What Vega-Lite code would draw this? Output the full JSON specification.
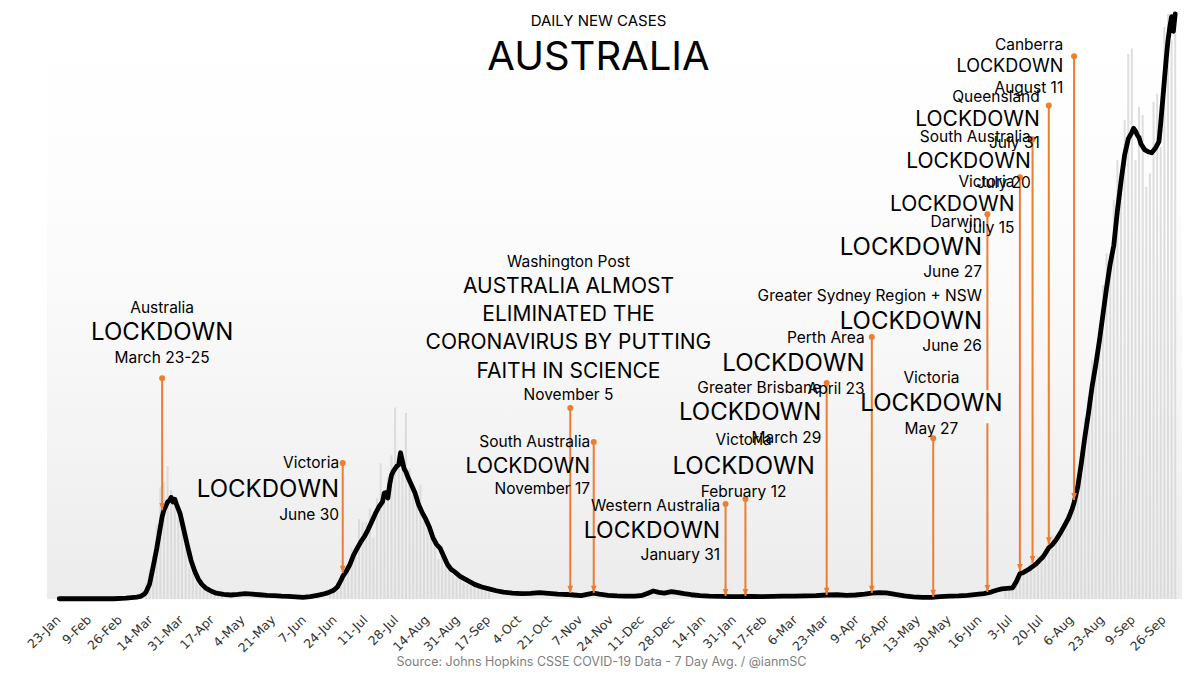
{
  "$schema": "https://vega.github.io/schema/vega-lite/v6.json",
  "width": 1135,
  "height": 585,
  "autosize": "none",
  "padding": {"left": 47, "top": 14, "right": 18, "bottom": 77},
  "background": "#ffffff",
  "title": {
    "text": "DAILY NEW CASES",
    "subtitle": "AUSTRALIA",
    "anchor": "middle",
    "dx": -16,
    "offset": -66,
    "font": "Inter",
    "fontSize": 15,
    "fontWeight": "normal",
    "color": "#000000",
    "subtitleFont": "Inter",
    "subtitleFontSize": 40,
    "subtitleColor": "#000000",
    "subtitlePadding": 9
  },
  "config": {
    "view": {
      "stroke": null,
      "fill": {
        "gradient": "linear", "x1": 0, "y1": 0, "x2": 0, "y2": 1,
        "stops": [
          {"offset": 0, "color": "#ffffff"},
          {"offset": 0.3, "color": "#fdfdfd"},
          {"offset": 0.6, "color": "#f7f7f7"},
          {"offset": 1, "color": "#ececec"}
        ]
      }
    }
  },
  "datasets": {
    "avg": [
      {"date": "2020-01-26", "value": 1}, {"date": "2020-02-05", "value": 1}, {"date": "2020-02-15", "value": 1},
      {"date": "2020-02-25", "value": 1}, {"date": "2020-03-03", "value": 3}, {"date": "2020-03-06", "value": 5},
      {"date": "2020-03-09", "value": 7}, {"date": "2020-03-11", "value": 10}, {"date": "2020-03-13", "value": 18},
      {"date": "2020-03-14", "value": 25}, {"date": "2020-03-16", "value": 55}, {"date": "2020-03-18", "value": 120},
      {"date": "2020-03-20", "value": 190}, {"date": "2020-03-22", "value": 270}, {"date": "2020-03-23", "value": 310},
      {"date": "2020-03-24", "value": 335}, {"date": "2020-03-26", "value": 365}, {"date": "2020-03-27", "value": 370},
      {"date": "2020-03-28", "value": 382}, {"date": "2020-03-29", "value": 365}, {"date": "2020-03-30", "value": 375},
      {"date": "2020-03-31", "value": 355}, {"date": "2020-04-02", "value": 320}, {"date": "2020-04-04", "value": 260},
      {"date": "2020-04-06", "value": 200}, {"date": "2020-04-08", "value": 145}, {"date": "2020-04-10", "value": 105},
      {"date": "2020-04-12", "value": 75}, {"date": "2020-04-14", "value": 55}, {"date": "2020-04-16", "value": 42},
      {"date": "2020-04-19", "value": 30}, {"date": "2020-04-22", "value": 22}, {"date": "2020-04-26", "value": 17},
      {"date": "2020-04-30", "value": 15}, {"date": "2020-05-04", "value": 17}, {"date": "2020-05-08", "value": 20},
      {"date": "2020-05-12", "value": 18}, {"date": "2020-05-16", "value": 16}, {"date": "2020-05-20", "value": 14},
      {"date": "2020-05-24", "value": 13}, {"date": "2020-05-28", "value": 11}, {"date": "2020-06-01", "value": 10},
      {"date": "2020-06-05", "value": 8}, {"date": "2020-06-09", "value": 6}, {"date": "2020-06-13", "value": 9},
      {"date": "2020-06-17", "value": 14}, {"date": "2020-06-20", "value": 18}, {"date": "2020-06-23", "value": 24},
      {"date": "2020-06-26", "value": 33}, {"date": "2020-06-28", "value": 45}, {"date": "2020-06-30", "value": 70},
      {"date": "2020-07-01", "value": 85}, {"date": "2020-07-03", "value": 105}, {"date": "2020-07-05", "value": 130},
      {"date": "2020-07-07", "value": 165}, {"date": "2020-07-09", "value": 190}, {"date": "2020-07-11", "value": 215},
      {"date": "2020-07-13", "value": 235}, {"date": "2020-07-15", "value": 260}, {"date": "2020-07-17", "value": 290},
      {"date": "2020-07-19", "value": 320}, {"date": "2020-07-21", "value": 346}, {"date": "2020-07-23", "value": 365},
      {"date": "2020-07-24", "value": 398}, {"date": "2020-07-25", "value": 400}, {"date": "2020-07-26", "value": 380},
      {"date": "2020-07-27", "value": 430}, {"date": "2020-07-28", "value": 465}, {"date": "2020-07-29", "value": 480},
      {"date": "2020-07-30", "value": 490}, {"date": "2020-07-31", "value": 500}, {"date": "2020-08-01", "value": 505},
      {"date": "2020-08-02", "value": 550}, {"date": "2020-08-03", "value": 520}, {"date": "2020-08-04", "value": 490},
      {"date": "2020-08-05", "value": 478}, {"date": "2020-08-06", "value": 460}, {"date": "2020-08-08", "value": 430},
      {"date": "2020-08-10", "value": 400}, {"date": "2020-08-12", "value": 355}, {"date": "2020-08-14", "value": 325},
      {"date": "2020-08-16", "value": 300}, {"date": "2020-08-18", "value": 270}, {"date": "2020-08-20", "value": 230},
      {"date": "2020-08-22", "value": 205}, {"date": "2020-08-24", "value": 190}, {"date": "2020-08-26", "value": 160},
      {"date": "2020-08-28", "value": 130}, {"date": "2020-08-30", "value": 112}, {"date": "2020-09-01", "value": 102},
      {"date": "2020-09-04", "value": 85}, {"date": "2020-09-08", "value": 70}, {"date": "2020-09-12", "value": 55},
      {"date": "2020-09-16", "value": 45}, {"date": "2020-09-20", "value": 38}, {"date": "2020-09-24", "value": 31},
      {"date": "2020-09-28", "value": 26}, {"date": "2020-10-03", "value": 22}, {"date": "2020-10-08", "value": 20},
      {"date": "2020-10-13", "value": 21}, {"date": "2020-10-18", "value": 24}, {"date": "2020-10-23", "value": 21},
      {"date": "2020-10-28", "value": 18}, {"date": "2020-11-02", "value": 17}, {"date": "2020-11-06", "value": 15},
      {"date": "2020-11-10", "value": 13}, {"date": "2020-11-14", "value": 18}, {"date": "2020-11-17", "value": 22},
      {"date": "2020-11-20", "value": 18}, {"date": "2020-11-25", "value": 14}, {"date": "2020-11-30", "value": 12},
      {"date": "2020-12-05", "value": 11}, {"date": "2020-12-10", "value": 11}, {"date": "2020-12-14", "value": 14},
      {"date": "2020-12-17", "value": 22}, {"date": "2020-12-20", "value": 30}, {"date": "2020-12-23", "value": 25},
      {"date": "2020-12-26", "value": 22}, {"date": "2020-12-30", "value": 28}, {"date": "2021-01-02", "value": 25},
      {"date": "2021-01-06", "value": 20}, {"date": "2021-01-10", "value": 16}, {"date": "2021-01-15", "value": 13},
      {"date": "2021-01-20", "value": 11}, {"date": "2021-01-26", "value": 10}, {"date": "2021-02-01", "value": 9},
      {"date": "2021-02-06", "value": 9}, {"date": "2021-02-12", "value": 10}, {"date": "2021-02-18", "value": 9},
      {"date": "2021-02-24", "value": 10}, {"date": "2021-03-02", "value": 11}, {"date": "2021-03-08", "value": 11},
      {"date": "2021-03-14", "value": 12}, {"date": "2021-03-20", "value": 13}, {"date": "2021-03-26", "value": 15},
      {"date": "2021-04-01", "value": 16}, {"date": "2021-04-06", "value": 14}, {"date": "2021-04-11", "value": 15},
      {"date": "2021-04-16", "value": 18}, {"date": "2021-04-20", "value": 22}, {"date": "2021-04-24", "value": 24},
      {"date": "2021-04-28", "value": 23}, {"date": "2021-05-03", "value": 17}, {"date": "2021-05-08", "value": 12},
      {"date": "2021-05-13", "value": 8}, {"date": "2021-05-18", "value": 6}, {"date": "2021-05-23", "value": 6},
      {"date": "2021-05-28", "value": 9}, {"date": "2021-06-02", "value": 11}, {"date": "2021-06-07", "value": 12},
      {"date": "2021-06-12", "value": 14}, {"date": "2021-06-17", "value": 17}, {"date": "2021-06-21", "value": 20},
      {"date": "2021-06-25", "value": 26}, {"date": "2021-06-28", "value": 33}, {"date": "2021-07-01", "value": 38},
      {"date": "2021-07-04", "value": 40}, {"date": "2021-07-07", "value": 42}, {"date": "2021-07-09", "value": 65},
      {"date": "2021-07-11", "value": 95}, {"date": "2021-07-13", "value": 100}, {"date": "2021-07-16", "value": 112},
      {"date": "2021-07-18", "value": 122}, {"date": "2021-07-20", "value": 132}, {"date": "2021-07-22", "value": 146},
      {"date": "2021-07-24", "value": 160}, {"date": "2021-07-27", "value": 193}, {"date": "2021-07-29", "value": 205},
      {"date": "2021-07-31", "value": 222}, {"date": "2021-08-03", "value": 255}, {"date": "2021-08-05", "value": 280},
      {"date": "2021-08-07", "value": 305}, {"date": "2021-08-09", "value": 340}, {"date": "2021-08-10", "value": 362},
      {"date": "2021-08-12", "value": 420}, {"date": "2021-08-14", "value": 510}, {"date": "2021-08-16", "value": 610},
      {"date": "2021-08-18", "value": 700}, {"date": "2021-08-20", "value": 800}, {"date": "2021-08-22", "value": 880},
      {"date": "2021-08-24", "value": 970}, {"date": "2021-08-26", "value": 1070}, {"date": "2021-08-28", "value": 1170},
      {"date": "2021-08-30", "value": 1260}, {"date": "2021-09-01", "value": 1330}, {"date": "2021-09-03", "value": 1460},
      {"date": "2021-09-05", "value": 1570}, {"date": "2021-09-07", "value": 1670}, {"date": "2021-09-09", "value": 1730},
      {"date": "2021-09-11", "value": 1755}, {"date": "2021-09-12", "value": 1770}, {"date": "2021-09-13", "value": 1760},
      {"date": "2021-09-14", "value": 1745}, {"date": "2021-09-15", "value": 1735}, {"date": "2021-09-16", "value": 1712},
      {"date": "2021-09-18", "value": 1690}, {"date": "2021-09-20", "value": 1682}, {"date": "2021-09-22", "value": 1678},
      {"date": "2021-09-24", "value": 1695}, {"date": "2021-09-26", "value": 1720}, {"date": "2021-09-27", "value": 1790},
      {"date": "2021-09-28", "value": 1870}, {"date": "2021-09-29", "value": 1950}, {"date": "2021-09-30", "value": 2030},
      {"date": "2021-10-01", "value": 2100}, {"date": "2021-10-02", "value": 2150}, {"date": "2021-10-03", "value": 2190},
      {"date": "2021-10-04", "value": 2135}, {"date": "2021-10-05", "value": 2200}
    ],
    "daily": [
      {"date": "2020-03-08", "value": 15}, {"date": "2020-03-10", "value": 20}, {"date": "2020-03-12", "value": 35},
      {"date": "2020-03-14", "value": 60}, {"date": "2020-03-16", "value": 110}, {"date": "2020-03-18", "value": 160},
      {"date": "2020-03-20", "value": 280}, {"date": "2020-03-22", "value": 420}, {"date": "2020-03-24", "value": 440},
      {"date": "2020-03-26", "value": 500}, {"date": "2020-03-28", "value": 410}, {"date": "2020-03-30", "value": 380},
      {"date": "2020-04-01", "value": 330}, {"date": "2020-04-03", "value": 300}, {"date": "2020-04-05", "value": 190},
      {"date": "2020-04-07", "value": 120}, {"date": "2020-04-09", "value": 100}, {"date": "2020-04-11", "value": 60},
      {"date": "2020-04-13", "value": 45}, {"date": "2020-04-15", "value": 40}, {"date": "2020-04-17", "value": 30},
      {"date": "2020-04-19", "value": 25}, {"date": "2020-04-21", "value": 20}, {"date": "2020-04-23", "value": 15},
      {"date": "2020-04-25", "value": 18},
      {"date": "2020-06-24", "value": 30}, {"date": "2020-06-26", "value": 45}, {"date": "2020-06-28", "value": 60},
      {"date": "2020-06-30", "value": 85}, {"date": "2020-07-02", "value": 110}, {"date": "2020-07-04", "value": 130},
      {"date": "2020-07-06", "value": 190}, {"date": "2020-07-08", "value": 200}, {"date": "2020-07-10", "value": 300},
      {"date": "2020-07-12", "value": 290}, {"date": "2020-07-14", "value": 290}, {"date": "2020-07-16", "value": 340},
      {"date": "2020-07-18", "value": 230}, {"date": "2020-07-20", "value": 380}, {"date": "2020-07-22", "value": 510},
      {"date": "2020-07-24", "value": 370}, {"date": "2020-07-26", "value": 460}, {"date": "2020-07-28", "value": 540},
      {"date": "2020-07-30", "value": 720}, {"date": "2020-08-01", "value": 500}, {"date": "2020-08-03", "value": 560},
      {"date": "2020-08-05", "value": 700}, {"date": "2020-08-07", "value": 490}, {"date": "2020-08-09", "value": 420},
      {"date": "2020-08-11", "value": 350}, {"date": "2020-08-13", "value": 430}, {"date": "2020-08-15", "value": 320},
      {"date": "2020-08-17", "value": 280}, {"date": "2020-08-19", "value": 240}, {"date": "2020-08-21", "value": 200},
      {"date": "2020-08-23", "value": 150}, {"date": "2020-08-25", "value": 170}, {"date": "2020-08-27", "value": 120},
      {"date": "2020-08-29", "value": 110}, {"date": "2020-08-31", "value": 90}, {"date": "2020-09-02", "value": 80},
      {"date": "2020-09-04", "value": 75}, {"date": "2020-09-06", "value": 60}, {"date": "2020-09-08", "value": 55},
      {"date": "2020-09-10", "value": 50}, {"date": "2020-09-12", "value": 45}, {"date": "2020-09-14", "value": 40},
      {"date": "2020-09-16", "value": 35}, {"date": "2020-09-18", "value": 30}, {"date": "2020-09-20", "value": 25},
      {"date": "2021-07-03", "value": 40}, {"date": "2021-07-05", "value": 35}, {"date": "2021-07-07", "value": 50},
      {"date": "2021-07-09", "value": 80}, {"date": "2021-07-11", "value": 110}, {"date": "2021-07-13", "value": 100},
      {"date": "2021-07-15", "value": 120}, {"date": "2021-07-17", "value": 140}, {"date": "2021-07-19", "value": 110},
      {"date": "2021-07-21", "value": 160}, {"date": "2021-07-23", "value": 170}, {"date": "2021-07-25", "value": 150},
      {"date": "2021-07-27", "value": 190}, {"date": "2021-07-29", "value": 240}, {"date": "2021-07-31", "value": 230},
      {"date": "2021-08-02", "value": 250}, {"date": "2021-08-04", "value": 280}, {"date": "2021-08-06", "value": 320},
      {"date": "2021-08-08", "value": 330}, {"date": "2021-08-10", "value": 390}, {"date": "2021-08-12", "value": 420},
      {"date": "2021-08-14", "value": 560}, {"date": "2021-08-16", "value": 680}, {"date": "2021-08-18", "value": 760},
      {"date": "2021-08-20", "value": 900}, {"date": "2021-08-22", "value": 920}, {"date": "2021-08-24", "value": 1000},
      {"date": "2021-08-26", "value": 1180}, {"date": "2021-08-28", "value": 1300}, {"date": "2021-08-30", "value": 1270},
      {"date": "2021-09-01", "value": 1500}, {"date": "2021-09-03", "value": 1650}, {"date": "2021-09-05", "value": 1560},
      {"date": "2021-09-07", "value": 1800}, {"date": "2021-09-09", "value": 2050}, {"date": "2021-09-11", "value": 2070},
      {"date": "2021-09-13", "value": 1650}, {"date": "2021-09-15", "value": 1850}, {"date": "2021-09-17", "value": 1820},
      {"date": "2021-09-19", "value": 1550}, {"date": "2021-09-21", "value": 1600}, {"date": "2021-09-23", "value": 1870},
      {"date": "2021-09-25", "value": 1900}, {"date": "2021-09-27", "value": 1700}, {"date": "2021-09-29", "value": 2150},
      {"date": "2021-10-01", "value": 2200}, {"date": "2021-10-03", "value": 2100}, {"date": "2021-10-05", "value": 2150}
    ],
    "arrows": [
      {"date": "2020-03-23", "top": 830, "bottom": 334},
      {"date": "2020-07-01", "top": 511, "bottom": 98},
      {"date": "2020-11-04", "top": 718, "bottom": 23},
      {"date": "2020-11-17", "top": 590, "bottom": 23},
      {"date": "2021-01-29", "top": 357, "bottom": 11},
      {"date": "2021-02-09", "top": 376, "bottom": 11},
      {"date": "2021-03-26", "top": 812, "bottom": 15},
      {"date": "2021-04-20", "top": 985, "bottom": 23},
      {"date": "2021-05-24", "top": 605, "bottom": 8},
      {"date": "2021-06-23", "top": 1447, "bottom": 26},
      {"date": "2021-07-11", "top": 1586, "bottom": 105},
      {"date": "2021-07-18", "top": 1729, "bottom": 135},
      {"date": "2021-07-27", "top": 1856, "bottom": 205},
      {"date": "2021-08-10", "top": 2041, "bottom": 372}
    ],
    "masks": [
      {"date": "2021-06-21", "date2": "2021-06-25", "low": 661, "high": 785}
    ],
    "notesRight": [
      {"date": "2020-06-29", "value": 511, "text": "Victoria", "kind": "small"},
      {"date": "2020-06-29", "value": 410, "text": "LOCKDOWN", "kind": "xl"},
      {"date": "2020-06-29", "value": 316, "text": "June 30", "kind": "small"},
      {"date": "2020-11-15", "value": 590, "text": "South Australia", "kind": "small"},
      {"date": "2020-11-15", "value": 496, "text": "LOCKDOWN", "kind": "m"},
      {"date": "2020-11-15", "value": 413, "text": "November 17", "kind": "small"},
      {"date": "2021-01-26", "value": 349, "text": "Western Australia", "kind": "small"},
      {"date": "2021-01-26", "value": 256, "text": "LOCKDOWN", "kind": "l"},
      {"date": "2021-01-26", "value": 165, "text": "January 31", "kind": "small"},
      {"date": "2021-03-23", "value": 793, "text": "Greater Brisbane", "kind": "small"},
      {"date": "2021-03-23", "value": 699, "text": "LOCKDOWN", "kind": "xl"},
      {"date": "2021-03-23", "value": 605, "text": "March 29", "kind": "small"},
      {"date": "2021-04-16", "value": 981, "text": "Perth Area", "kind": "small"},
      {"date": "2021-04-16", "value": 883, "text": "LOCKDOWN", "kind": "xl"},
      {"date": "2021-04-16", "value": 789, "text": "April 23", "kind": "small"},
      {"date": "2021-06-20", "value": 1139, "text": "Greater Sydney Region + NSW", "kind": "small"},
      {"date": "2021-06-20", "value": 1041, "text": "LOCKDOWN", "kind": "xl"},
      {"date": "2021-06-20", "value": 951, "text": "June 26", "kind": "small"},
      {"date": "2021-06-20", "value": 1417, "text": "Darwin", "kind": "small"},
      {"date": "2021-06-20", "value": 1319, "text": "LOCKDOWN", "kind": "xl"},
      {"date": "2021-06-20", "value": 1229, "text": "June 27", "kind": "small"},
      {"date": "2021-07-08", "value": 1567, "text": "Victoria", "kind": "small"},
      {"date": "2021-07-08", "value": 1481, "text": "LOCKDOWN", "kind": "m"},
      {"date": "2021-07-08", "value": 1394, "text": "July 15", "kind": "small"},
      {"date": "2021-07-17", "value": 1736, "text": "South Australia", "kind": "small"},
      {"date": "2021-07-17", "value": 1642, "text": "LOCKDOWN", "kind": "m"},
      {"date": "2021-07-17", "value": 1563, "text": "July 20", "kind": "small"},
      {"date": "2021-07-22", "value": 1887, "text": "Queensland", "kind": "small"},
      {"date": "2021-07-22", "value": 1800, "text": "LOCKDOWN", "kind": "m"},
      {"date": "2021-07-22", "value": 1714, "text": "July 31", "kind": "small"},
      {"date": "2021-08-04", "value": 2082, "text": "Canberra", "kind": "small"},
      {"date": "2021-08-04", "value": 1999, "text": "LOCKDOWN", "kind": "s"},
      {"date": "2021-08-04", "value": 1920, "text": "August 11", "kind": "small"}
    ],
    "notesCenter": [
      {"date": "2020-03-23", "value": 1094, "text": "Australia", "kind": "small"},
      {"date": "2020-03-23", "value": 1000, "text": "LOCKDOWN", "kind": "xl"},
      {"date": "2020-03-23", "value": 906, "text": "March 23-25", "kind": "small"},
      {"date": "2020-11-03", "value": 1266, "text": "Washington Post", "kind": "small"},
      {"date": "2020-11-03", "value": 1172, "text": "AUSTRALIA ALMOST", "kind": "head"},
      {"date": "2020-11-03", "value": 1067, "text": "ELIMINATED THE", "kind": "head"},
      {"date": "2020-11-03", "value": 962, "text": "CORONAVIRUS BY PUTTING", "kind": "head"},
      {"date": "2020-11-03", "value": 853, "text": "FAITH IN SCIENCE", "kind": "head"},
      {"date": "2020-11-03", "value": 767, "text": "November 5", "kind": "small"},
      {"date": "2021-02-08", "value": 598, "text": "Victoria", "kind": "small"},
      {"date": "2021-02-08", "value": 496, "text": "LOCKDOWN", "kind": "xl"},
      {"date": "2021-02-08", "value": 402, "text": "February 12", "kind": "small"},
      {"date": "2021-05-23", "value": 831, "text": "Victoria", "kind": "small"},
      {"date": "2021-05-23", "value": 733, "text": "LOCKDOWN", "kind": "xl"},
      {"date": "2021-05-23", "value": 639, "text": "May 27", "kind": "small"}
    ]
  },
  "encoding": {
    "x": {
      "field": "date",
      "type": "temporal",
      "title": "Source: Johns Hopkins CSSE COVID-19 Data - 7 Day Avg. / @ianmSC",
      "scale": {
        "type": "utc",
        "domain": [
          {"year": 2020, "month": 1, "date": 22, "utc": true},
          {"year": 2021, "month": 10, "date": 6, "utc": true}
        ]
      },
      "axis": {
        "values": [
          {"year": 2020, "month": 1, "date": 23, "utc": true}, {"year": 2020, "month": 2, "date": 9, "utc": true},
          {"year": 2020, "month": 2, "date": 26, "utc": true}, {"year": 2020, "month": 3, "date": 14, "utc": true},
          {"year": 2020, "month": 3, "date": 31, "utc": true}, {"year": 2020, "month": 4, "date": 17, "utc": true},
          {"year": 2020, "month": 5, "date": 4, "utc": true}, {"year": 2020, "month": 5, "date": 21, "utc": true},
          {"year": 2020, "month": 6, "date": 7, "utc": true}, {"year": 2020, "month": 6, "date": 24, "utc": true},
          {"year": 2020, "month": 7, "date": 11, "utc": true}, {"year": 2020, "month": 7, "date": 28, "utc": true},
          {"year": 2020, "month": 8, "date": 14, "utc": true}, {"year": 2020, "month": 8, "date": 31, "utc": true},
          {"year": 2020, "month": 9, "date": 17, "utc": true}, {"year": 2020, "month": 10, "date": 4, "utc": true},
          {"year": 2020, "month": 10, "date": 21, "utc": true}, {"year": 2020, "month": 11, "date": 7, "utc": true},
          {"year": 2020, "month": 11, "date": 24, "utc": true}, {"year": 2020, "month": 12, "date": 11, "utc": true},
          {"year": 2020, "month": 12, "date": 28, "utc": true}, {"year": 2021, "month": 1, "date": 14, "utc": true},
          {"year": 2021, "month": 1, "date": 31, "utc": true}, {"year": 2021, "month": 2, "date": 17, "utc": true},
          {"year": 2021, "month": 3, "date": 6, "utc": true}, {"year": 2021, "month": 3, "date": 23, "utc": true},
          {"year": 2021, "month": 4, "date": 9, "utc": true}, {"year": 2021, "month": 4, "date": 26, "utc": true},
          {"year": 2021, "month": 5, "date": 13, "utc": true}, {"year": 2021, "month": 5, "date": 30, "utc": true},
          {"year": 2021, "month": 6, "date": 16, "utc": true}, {"year": 2021, "month": 7, "date": 3, "utc": true},
          {"year": 2021, "month": 7, "date": 20, "utc": true}, {"year": 2021, "month": 8, "date": 6, "utc": true},
          {"year": 2021, "month": 8, "date": 23, "utc": true}, {"year": 2021, "month": 9, "date": 9, "utc": true},
          {"year": 2021, "month": 9, "date": 26, "utc": true}
        ],
        "format": "%-d-%b",
        "labelAngle": -45,
        "labelAlign": "right",
        "labelBaseline": "top",
        "labelPadding": 14,
        "labelFlush": false,
        "labelOverlap": false,
        "labelFont": "DejaVu Sans",
        "labelFontSize": 12.5,
        "labelColor": "#333333",
        "ticks": false,
        "domain": false,
        "grid": false,
        "titleFont": "Inter",
        "titleFontSize": 12.5,
        "titleFontWeight": "normal",
        "titleColor": "#7f7f7f",
        "titleX": 554,
        "titleY": 62,
        "titleAlign": "center",
        "titleBaseline": "middle"
      }
    }
  },
  "layer": [
    {
      "data": {"name": "daily"},
      "mark": {"type": "bar", "size": 2, "color": "#d6d6d6", "opacity": 0.8},
      "encoding": {
        "y": {
          "field": "value", "type": "quantitative", "title": null,
          "scale": {"domain": [0, 2200], "nice": false},
          "axis": {
            "values": [0, 100, 200, 300, 400, 500, 600, 700, 800, 900, 1000, 1100, 1200, 1300, 1400, 1500, 1600, 1700, 1800, 1900, 2000, 2100, 2200],
            "ticks": false, "domain": false, "grid": false,
            "labelPadding": 14, "labelFont": "DejaVu Sans", "labelFontSize": 12, "labelColor": "#333333"
          }
        }
      }
    },
    {
      "data": {"name": "avg"},
      "mark": {"type": "line", "color": "#000000", "strokeWidth": 4.8, "strokeJoin": "round", "strokeCap": "round"},
      "encoding": {
        "y": {"field": "value", "type": "quantitative", "title": null, "scale": {"domain": [0, 2200], "nice": false}, "axis": null}
      }
    },
    {
      "data": {"name": "arrows"},
      "mark": {"type": "rule", "color": "#ed7d31", "strokeWidth": 2},
      "encoding": {
        "y": {"field": "top", "type": "quantitative", "title": null, "scale": {"domain": [0, 2200], "nice": false}, "axis": null},
        "y2": {"field": "bottom"}
      }
    },
    {
      "data": {"name": "arrows"},
      "mark": {"type": "point", "shape": "circle", "filled": true, "size": 36, "color": "#ed7d31", "opacity": 1},
      "encoding": {
        "y": {"field": "top", "type": "quantitative", "title": null, "scale": {"domain": [0, 2200], "nice": false}, "axis": null}
      }
    },
    {
      "data": {"name": "arrows"},
      "mark": {"type": "point", "shape": "M-0.7,-1.8L0.7,-1.8L0,0Z", "filled": true, "size": 64, "color": "#ed7d31", "opacity": 1},
      "encoding": {
        "y": {"field": "bottom", "type": "quantitative", "title": null, "scale": {"domain": [0, 2200], "nice": false}, "axis": null}
      }
    },
    {
      "data": {"name": "masks"},
      "mark": {"type": "rect", "color": "#f8f8f8"},
      "encoding": {
        "x2": {"field": "date2"},
        "y": {"field": "low", "type": "quantitative", "title": null, "scale": {"domain": [0, 2200], "nice": false}, "axis": null},
        "y2": {"field": "high"}
      }
    },
    {
      "data": {"name": "notesRight"},
      "transform": [{"filter": {"field": "kind", "equal": "small"}}],
      "mark": {"type": "text", "align": "right", "baseline": "middle", "font": "Inter", "fontSize": 15.5, "color": "#000000"},
      "encoding": {
        "y": {"field": "value", "type": "quantitative", "title": null, "scale": {"domain": [0, 2200], "nice": false}, "axis": null},
        "text": {"field": "text"}
      }
    },
    {
      "data": {"name": "notesRight"},
      "transform": [{"filter": {"field": "kind", "equal": "xl"}}],
      "mark": {"type": "text", "align": "right", "baseline": "middle", "font": "Inter", "fontSize": 24, "color": "#000000"},
      "encoding": {
        "y": {"field": "value", "type": "quantitative", "title": null, "scale": {"domain": [0, 2200], "nice": false}, "axis": null},
        "text": {"field": "text"}
      }
    },
    {
      "data": {"name": "notesRight"},
      "transform": [{"filter": {"field": "kind", "equal": "l"}}],
      "mark": {"type": "text", "align": "right", "baseline": "middle", "font": "Inter", "fontSize": 23, "color": "#000000"},
      "encoding": {
        "y": {"field": "value", "type": "quantitative", "title": null, "scale": {"domain": [0, 2200], "nice": false}, "axis": null},
        "text": {"field": "text"}
      }
    },
    {
      "data": {"name": "notesRight"},
      "transform": [{"filter": {"field": "kind", "equal": "m"}}],
      "mark": {"type": "text", "align": "right", "baseline": "middle", "font": "Inter", "fontSize": 21, "color": "#000000"},
      "encoding": {
        "y": {"field": "value", "type": "quantitative", "title": null, "scale": {"domain": [0, 2200], "nice": false}, "axis": null},
        "text": {"field": "text"}
      }
    },
    {
      "data": {"name": "notesRight"},
      "transform": [{"filter": {"field": "kind", "equal": "s"}}],
      "mark": {"type": "text", "align": "right", "baseline": "middle", "font": "Inter", "fontSize": 18, "color": "#000000"},
      "encoding": {
        "y": {"field": "value", "type": "quantitative", "title": null, "scale": {"domain": [0, 2200], "nice": false}, "axis": null},
        "text": {"field": "text"}
      }
    },
    {
      "data": {"name": "notesCenter"},
      "transform": [{"filter": {"field": "kind", "equal": "small"}}],
      "mark": {"type": "text", "align": "center", "baseline": "middle", "font": "Inter", "fontSize": 15.5, "color": "#000000"},
      "encoding": {
        "y": {"field": "value", "type": "quantitative", "title": null, "scale": {"domain": [0, 2200], "nice": false}, "axis": null},
        "text": {"field": "text"}
      }
    },
    {
      "data": {"name": "notesCenter"},
      "transform": [{"filter": {"field": "kind", "equal": "head"}}],
      "mark": {"type": "text", "align": "center", "baseline": "middle", "font": "Inter", "fontSize": 21, "color": "#000000"},
      "encoding": {
        "y": {"field": "value", "type": "quantitative", "title": null, "scale": {"domain": [0, 2200], "nice": false}, "axis": null},
        "text": {"field": "text"}
      }
    },
    {
      "data": {"name": "notesCenter"},
      "transform": [{"filter": {"field": "kind", "equal": "xl"}}],
      "mark": {"type": "text", "align": "center", "baseline": "middle", "font": "Inter", "fontSize": 24, "color": "#000000"},
      "encoding": {
        "y": {"field": "value", "type": "quantitative", "title": null, "scale": {"domain": [0, 2200], "nice": false}, "axis": null},
        "text": {"field": "text"}
      }
    }
  ]
}
